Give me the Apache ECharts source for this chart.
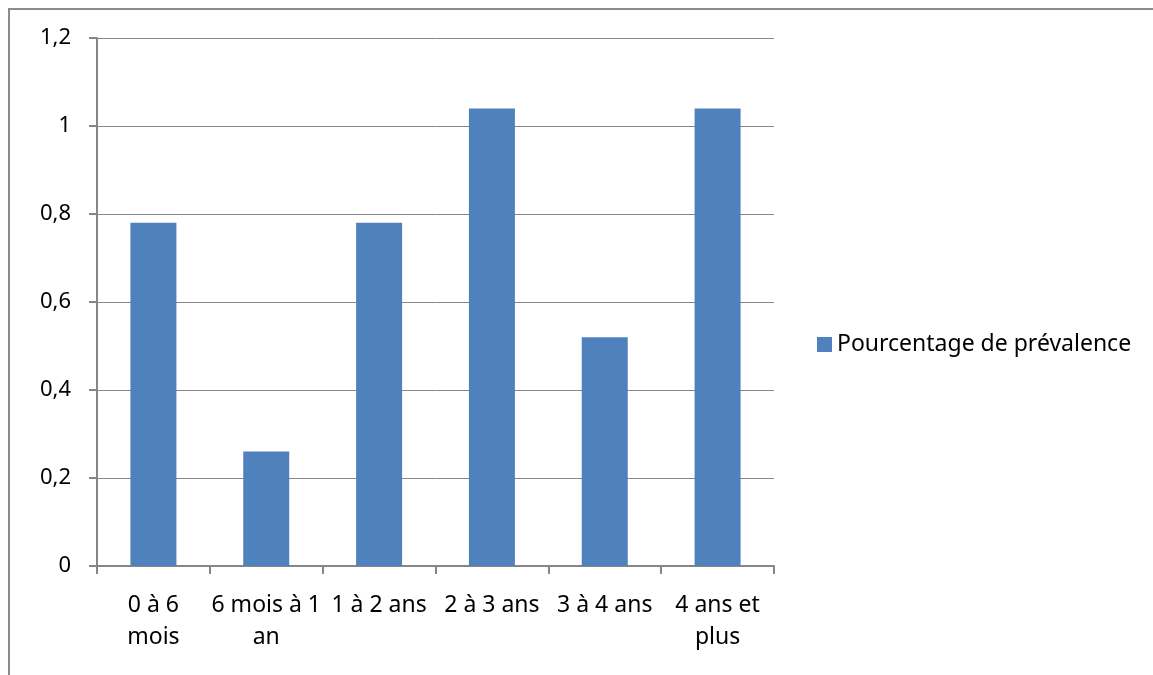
<!DOCTYPE html>
<html>
<head>
<meta charset="utf-8">
<script src="https://cdn.jsdelivr.net/npm/echarts@6/dist/echarts.min.js"></script>
<style>
html,body{margin:0;padding:0;background:#fff;}
#chart{width:1153px;height:675px;}
</style>
</head>
<body>
<div id="chart"></div>
<script>
const categories = ['0 à 6 mois', '6 mois à 1 an', '1 à 2 ans', '2 à 3 ans', '3 à 4 ans', '4 ans et plus'];
const tickLabels = ['0 à 6\nmois', '6 mois à 1\nan', '1 à 2 ans', '2 à 3 ans', '3 à 4 ans', '4 ans et\nplus'];
const seriesName = 'Pourcentage de prévalence';
const values = [0.78, 0.26, 0.78, 1.04, 0.52, 1.04];

const FONT = 'Noto Sans';
const chart = echarts.init(document.getElementById('chart'));
chart.setOption({
  animation: false,
  backgroundColor: '#fff',
  graphic: [{
    type: 'rect', z: 100, silent: true,
    shape: {x: 9, y: 9, width: 1300, height: 800},
    style: {fill: 'none', stroke: '#8c8c8c', lineWidth: 2}
  }],
  grid: {left: 97, right: 379, top: 38, bottom: 109},
  legend: {
    left: 817, top: 333, orient: 'vertical', padding: 0,
    itemWidth: 15, itemHeight: 15, icon: 'rect', itemGap: 6,
    textStyle: {fontFamily: FONT, fontSize: 23, color: '#000'},
    data: [seriesName]
  },
  xAxis: {
    type: 'category',
    data: categories,
    axisLine: {lineStyle: {color: '#868686', width: 2}},
    axisTick: {show: true, length: 8, lineStyle: {color: '#868686', width: 2}},
    axisLabel: {
      fontFamily: FONT, fontSize: 23, color: '#000', margin: 23, lineHeight: 32,
      interval: 0,
      formatter: function (v, i) { return tickLabels[i]; }
    }
  },
  yAxis: {
    type: 'value', min: 0, max: 1.2, interval: 0.2,
    axisLine: {show: true, lineStyle: {color: '#868686', width: 2}},
    axisTick: {show: true, length: 8, lineStyle: {color: '#868686', width: 2}},
    splitLine: {show: true, lineStyle: {color: '#868686', width: 1}},
    axisLabel: {
      fontFamily: FONT, fontSize: 22, color: '#000', margin: 26,
      formatter: function (v) { return String(Math.round(v * 10) / 10).replace('.', ','); }
    }
  },
  series: [{
    name: seriesName,
    type: 'bar',
    data: values,
    barWidth: 46,
    itemStyle: {color: '#4F81BD'}
  }]
});
</script>
</body>
</html>
